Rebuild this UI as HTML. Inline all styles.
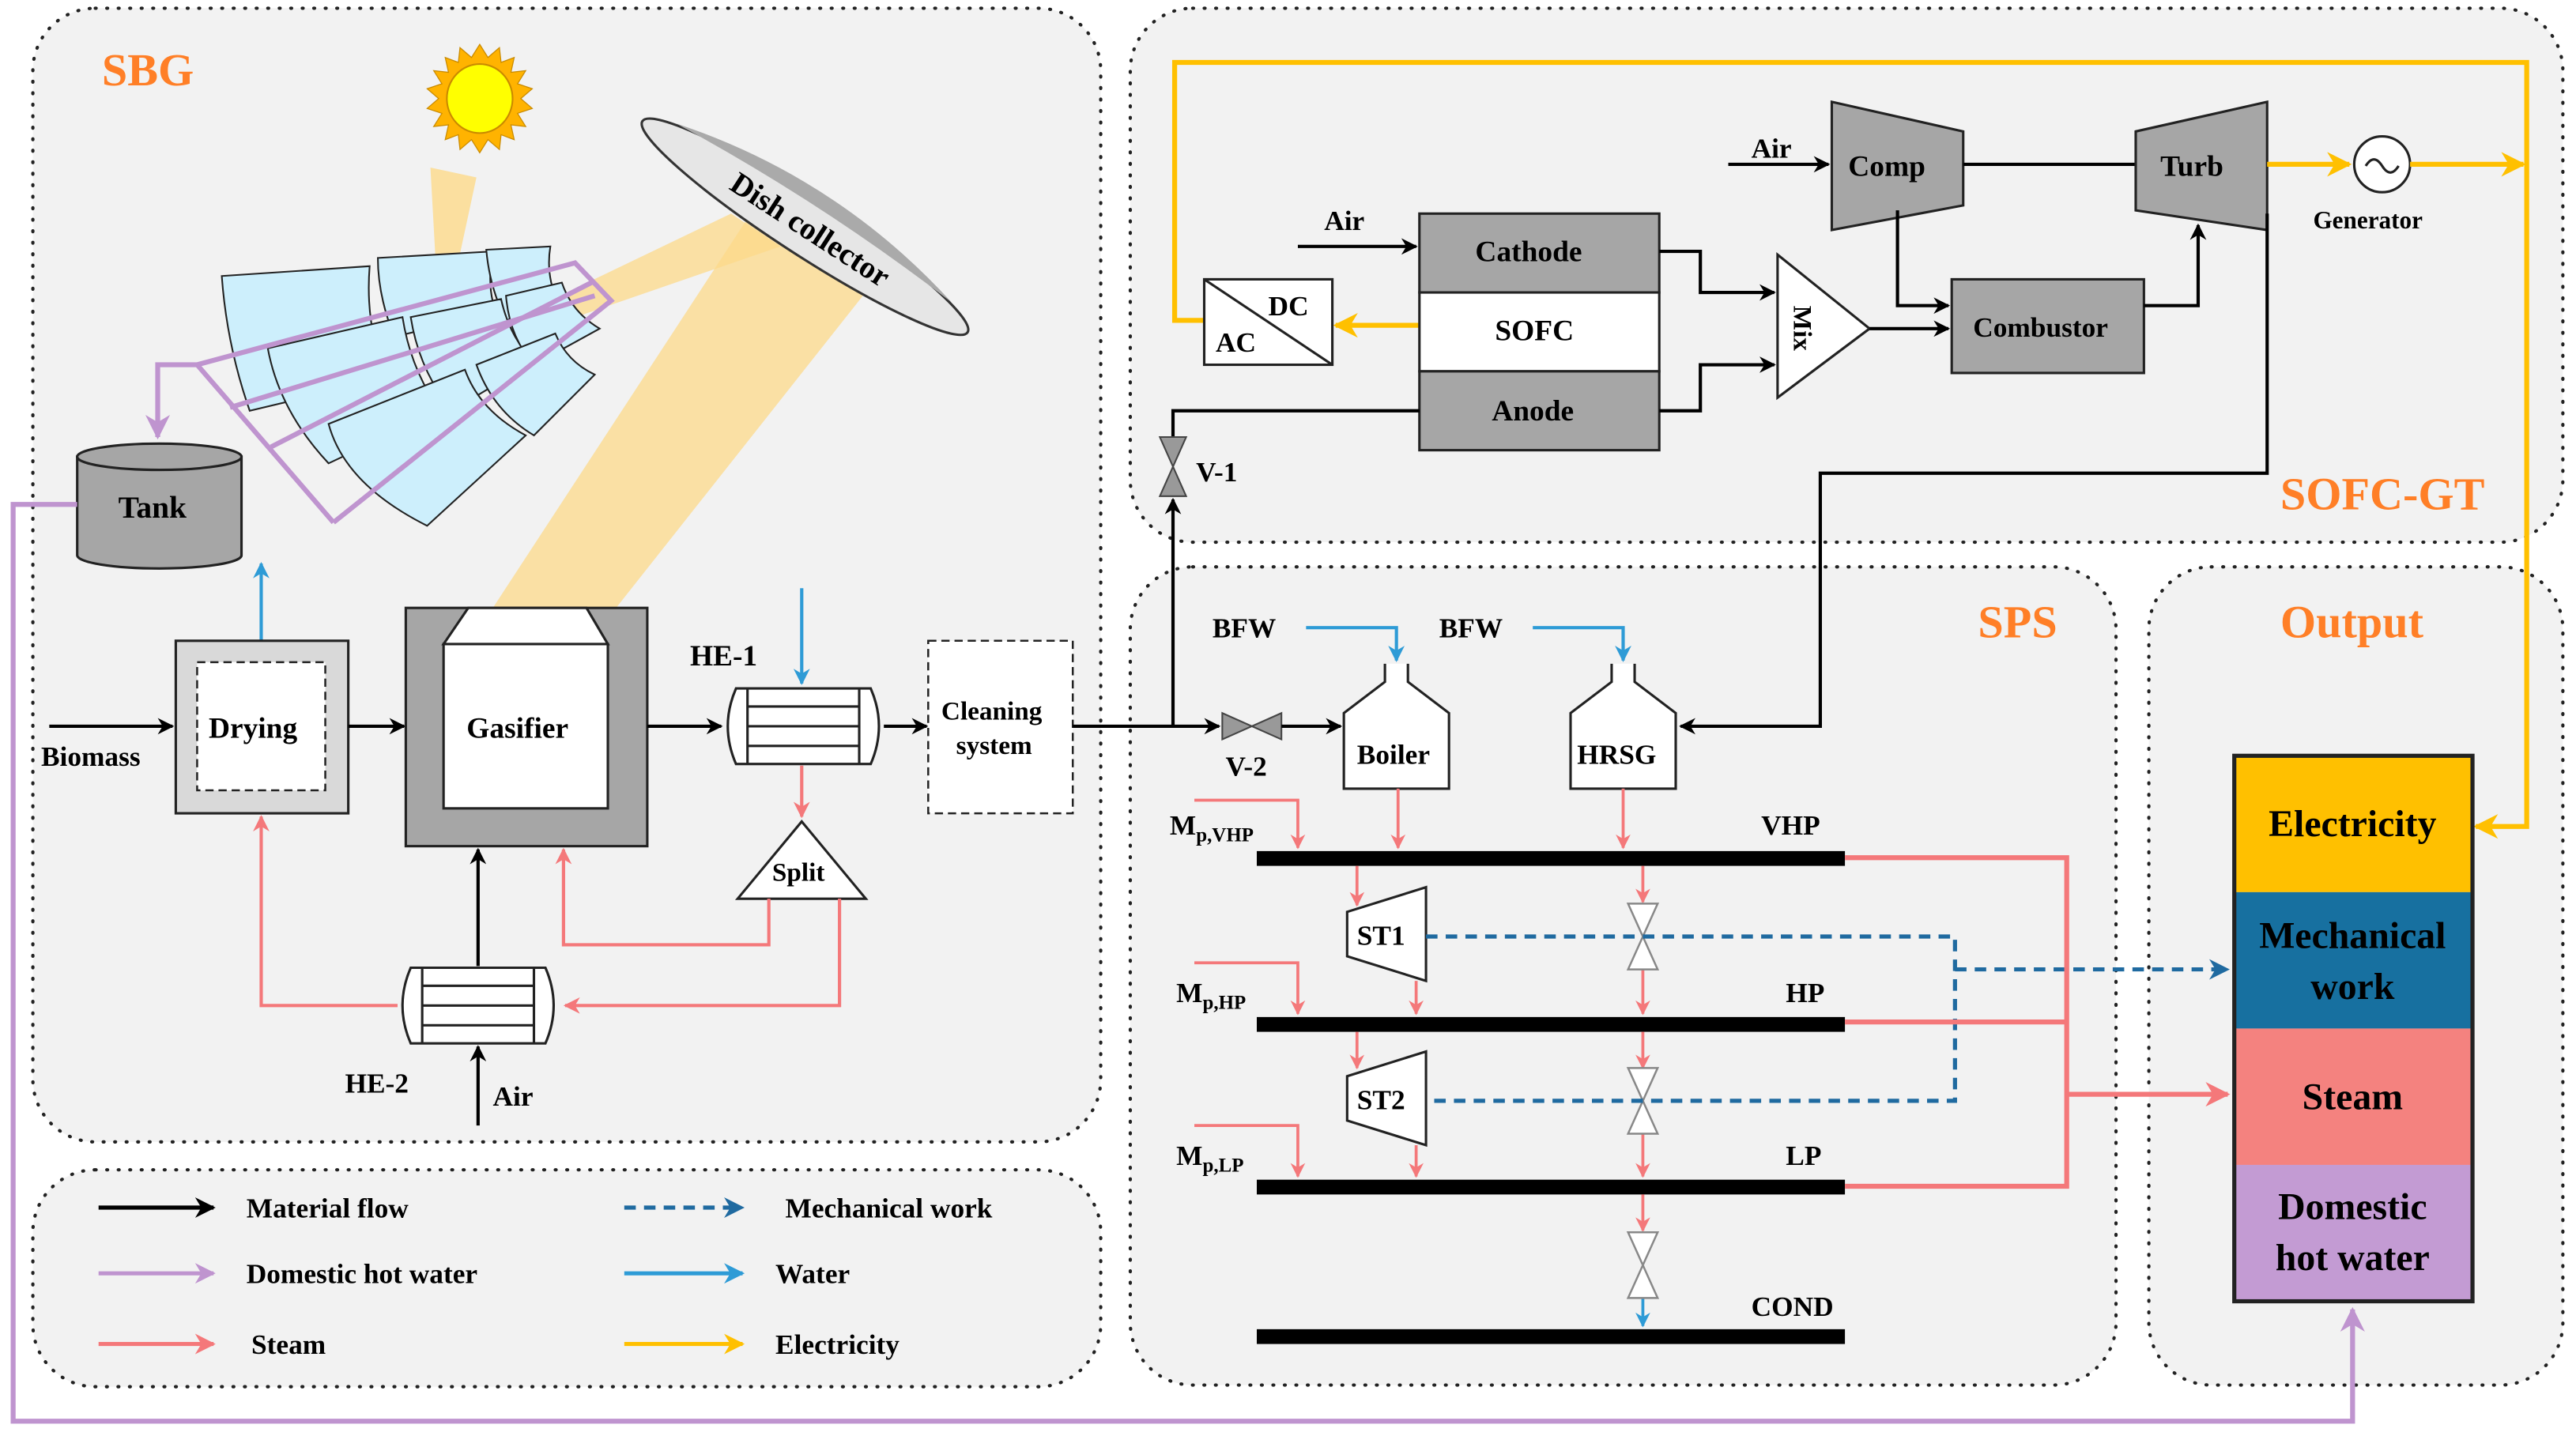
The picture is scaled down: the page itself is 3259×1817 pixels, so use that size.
<!DOCTYPE html>
<html><head><meta charset="utf-8"><style>html,body{margin:0;padding:0;background:#fff}svg{display:block}text{font-family:"Liberation Serif","Times New Roman",serif;font-weight:bold;fill:#000}</style></head><body>
<svg width="3259" height="1817" viewBox="0 0 1568 874" preserveAspectRatio="none" xmlns="http://www.w3.org/2000/svg" font-family="Liberation Serif, serif" font-weight="bold">
<defs>
<marker id="k" viewBox="0 0 10 10" refX="9" refY="5" markerWidth="5" markerHeight="5" orient="auto-start-reverse"><path d="M0,0L10,5L0,10L3,5z" fill="#000"/></marker>
<marker id="s" viewBox="0 0 10 10" refX="9" refY="5" markerWidth="5" markerHeight="5" orient="auto"><path d="M0,0L10,5L0,10L3,5z" fill="#f4787a"/></marker>
<marker id="b" viewBox="0 0 10 10" refX="9" refY="5" markerWidth="5" markerHeight="5" orient="auto"><path d="M0,0L10,5L0,10L3,5z" fill="#2e9bd6"/></marker>
<marker id="p" viewBox="0 0 10 10" refX="9" refY="5" markerWidth="5" markerHeight="5" orient="auto"><path d="M0,0L10,5L0,10L3,5z" fill="#bf94cf"/></marker>
<marker id="y" viewBox="0 0 10 10" refX="9" refY="5" markerWidth="5" markerHeight="5" orient="auto"><path d="M0,0L10,5L0,10L3,5z" fill="#ffc000"/></marker>
<marker id="d" viewBox="0 0 10 10" refX="9" refY="5" markerWidth="5" markerHeight="5" orient="auto"><path d="M0,0L10,5L0,10L3,5z" fill="#1f6aa0"/></marker>
</defs>
<g fill="#f2f2f2" stroke="#222" stroke-width="2" stroke-dasharray="0.5 6.5" stroke-linecap="round">
<rect x="20" y="5" width="650" height="690" rx="38"/>
<rect x="688" y="5" width="872" height="325" rx="38"/>
<rect x="688" y="345" width="600" height="498" rx="38"/>
<rect x="1308" y="345" width="252" height="498" rx="38"/>
<rect x="20" y="712" width="650" height="132" rx="38"/>
</g>
<g font-size="28">
<text x="62" y="52" style="fill:#ff7f27">SBG</text>
<text x="1388" y="310" style="fill:#ff7f27">SOFC-GT</text>
<text x="1204" y="388" style="fill:#ff7f27">SPS</text>
<text x="1388" y="388" style="fill:#ff7f27">Output</text>
</g>
<polygon points="262,102 290,108 268,210" fill="#fcd98a" opacity="0.8"/>
<polygon points="470,110 545,155 375,370 300,370" fill="#fcd98a" opacity="0.75"/>
<polygon points="445,130 475,150 330,200 320,190" fill="#fcd98a" opacity="0.75"/>
<g transform="translate(292,60)">
<polygon fill="#ffb300" stroke="#c98a00" stroke-width="0.6" points="0,-33 5,-25 12,-31 13,-22 21,-25 19,-16 28,-17 23,-9 32,-6 25,0 32,6 23,9 28,17 19,16 21,25 13,22 12,31 5,25 0,33 -5,25 -12,31 -13,22 -21,25 -19,16 -28,17 -23,9 -32,6 -25,0 -32,-6 -23,-9 -28,-17 -19,-16 -21,-25 -13,-22 -12,-31 -5,-25"/>
<ellipse rx="20" ry="21" fill="#ffff00" stroke="#c98a00"/>
</g>
<g transform="translate(490,138) rotate(33)">
<ellipse rx="118" ry="17" fill="#e6e6e6" stroke="#333" stroke-width="1.5"/>
<path d="M-100,-10 Q0,-36 100,-10 Q0,-18 -100,-10z" fill="#aaa"/>
<text x="-52" y="6" font-size="19">Dish collector</text>
</g>
<g fill="#cdeffc" stroke="#222" stroke-width="1">
<path d="M135,168 L225,162 Q222,200 236,230 L152,250 Q138,210 135,168z"/>
<path d="M230,157 L300,153 Q296,175 302,190 L240,205 Q230,180 230,157z"/>
<path d="M296,152 L335,150 Q332,168 340,185 L308,195 Q298,175 296,152z"/>
<path d="M163,212 L245,193 Q250,225 268,250 L200,282 Q170,250 163,212z"/>
<path d="M250,193 L305,182 Q310,205 325,220 L275,250 Q255,225 250,193z"/>
<path d="M308,180 L342,172 Q348,190 365,200 L325,222 Q310,205 308,180z"/>
<path d="M200,258 L283,225 Q292,250 320,265 L260,320 Q210,295 200,258z"/>
<path d="M290,222 L338,203 Q345,220 362,228 L325,265 Q300,250 290,222z"/>
</g>
<g fill="none" stroke="#bf94cf" stroke-width="3">
<polyline points="203,318 120,222 350,160 372,183 203,318"/>
<polyline points="165,272 360,172"/>
<polyline points="140,248 362,180"/>
</g>
<polyline points="120,222 96,222 96,266" fill="none" stroke="#bf94cf" stroke-width="3" marker-end="url(#p)"/>
<path d="M47,278 V338 A50,8 0 0 0 147,338 V278z" fill="#a6a6a6" stroke="#222" stroke-width="1.5"/>
<ellipse cx="97" cy="278" rx="50" ry="8" fill="#a6a6a6" stroke="#222" stroke-width="1.5"/>
<text x="72" y="315" font-size="19">Tank</text>
<polyline points="47,307 8,307 8,865 1432,865 1432,797" fill="none" stroke="#bf94cf" stroke-width="3" marker-end="url(#p)"/>
<line x1="159" y1="390" x2="159" y2="343" stroke="#2e9bd6" stroke-width="2" marker-end="url(#b)"/>
<rect x="107" y="390" width="105" height="105" fill="#d9d9d9" stroke="#222" stroke-width="1.5"/>
<rect x="120" y="403" width="78" height="78" fill="#fff" stroke="#222" stroke-width="1.2" stroke-dasharray="5 3"/>
<text x="127" y="449" font-size="18">Drying</text>
<line x1="30" y1="442" x2="105" y2="442" stroke="#000" stroke-width="2" marker-end="url(#k)"/>
<text x="25" y="466" font-size="17">Biomass</text>
<line x1="212" y1="442" x2="246" y2="442" stroke="#000" stroke-width="2" marker-end="url(#k)"/>
<rect x="247" y="370" width="147" height="145" fill="#a6a6a6" stroke="#222" stroke-width="1.5"/>
<rect x="270" y="392" width="100" height="100" fill="#fff" stroke="#222" stroke-width="1.5"/>
<polygon points="270,392 285,370 357,370 370,392" fill="#fff" stroke="#222" stroke-width="1.5"/>
<text x="284" y="449" font-size="18">Gasifier</text>
<line x1="394" y1="442" x2="439" y2="442" stroke="#000" stroke-width="2" marker-end="url(#k)"/>
<text x="420" y="405" font-size="18">HE-1</text>
<line x1="488" y1="358" x2="488" y2="416" stroke="#2e9bd6" stroke-width="2" marker-end="url(#b)"/>
<g fill="#fff" stroke="#222" stroke-width="1.5">
<path d="M448,419 H530 Q540,442 530,465 H448 Q438,442 448,419z"/>
<path d="M455,419 V465 M523,419 V465 M455,430 H523 M455,442 H523 M455,454 H523"/>
<path d="M250,589 H332 Q342,612 332,635 H250 Q240,612 250,589z"/>
<path d="M257,589 V635 M325,589 V635 M257,600 H325 M257,612 H325 M257,624 H325"/>
</g>
<line x1="538" y1="442" x2="564" y2="442" stroke="#000" stroke-width="2" marker-end="url(#k)"/>
<rect x="565" y="390" width="88" height="105" fill="#fff" stroke="#222" stroke-width="1.2" stroke-dasharray="5 3"/>
<text x="573" y="438" font-size="16">Cleaning</text>
<text x="582" y="459" font-size="16">system</text>
<line x1="488" y1="466" x2="488" y2="497" stroke="#f4787a" stroke-width="2" marker-end="url(#s)"/>
<polygon points="449,547 488,500 527,547" fill="#fff" stroke="#222" stroke-width="1.5"/>
<text x="470" y="536" font-size="16">Split</text>
<polyline points="468,547 468,575 343,575 343,517" fill="none" stroke="#f4787a" stroke-width="2" marker-end="url(#s)"/>
<polyline points="511,547 511,612 344,612" fill="none" stroke="#f4787a" stroke-width="2" marker-end="url(#s)"/>
<polyline points="242,612 159,612 159,497" fill="none" stroke="#f4787a" stroke-width="2" marker-end="url(#s)"/>
<line x1="291" y1="588" x2="291" y2="517" stroke="#000" stroke-width="2" marker-end="url(#k)"/>
<line x1="291" y1="685" x2="291" y2="637" stroke="#000" stroke-width="2" marker-end="url(#k)"/>
<text x="210" y="665" font-size="17">HE-2</text>
<text x="300" y="673" font-size="17">Air</text>
<g stroke-width="2.5" fill="none">
<line x1="60" y1="735" x2="130" y2="735" stroke="#000" marker-end="url(#k)"/>
<line x1="60" y1="775" x2="130" y2="775" stroke="#bf94cf" marker-end="url(#p)"/>
<line x1="60" y1="818" x2="130" y2="818" stroke="#f4787a" marker-end="url(#s)"/>
<line x1="380" y1="735" x2="452" y2="735" stroke="#1f6aa0" stroke-dasharray="7 5" marker-end="url(#d)"/>
<line x1="380" y1="775" x2="452" y2="775" stroke="#2e9bd6" marker-end="url(#b)"/>
<line x1="380" y1="818" x2="452" y2="818" stroke="#ffc000" marker-end="url(#y)"/>
</g>
<g font-size="17">
<text x="150" y="741">Material flow</text>
<text x="150" y="781">Domestic hot water</text>
<text x="153" y="824">Steam</text>
<text x="478" y="741">Mechanical work</text>
<text x="472" y="781">Water</text>
<text x="472" y="824">Electricity</text>
</g>
<polyline points="733,195 715,195 715,38 1538,38 1538,503 1507,503" fill="none" stroke="#ffc000" stroke-width="3" marker-end="url(#y)"/>
<line x1="864" y1="198" x2="813" y2="198" stroke="#ffc000" stroke-width="3" marker-end="url(#y)"/>
<rect x="733" y="170" width="78" height="52" fill="#fff" stroke="#222" stroke-width="1.5"/>
<line x1="733" y1="170" x2="811" y2="222" stroke="#222" stroke-width="1.5"/>
<text x="772" y="192" font-size="17">DC</text>
<text x="740" y="214" font-size="17">AC</text>
<rect x="864" y="130" width="146" height="48" fill="#a6a6a6" stroke="#222" stroke-width="1.5"/>
<rect x="864" y="178" width="146" height="48" fill="#fff" stroke="#222" stroke-width="1.5"/>
<rect x="864" y="226" width="146" height="48" fill="#a6a6a6" stroke="#222" stroke-width="1.5"/>
<text x="898" y="159" font-size="18">Cathode</text>
<text x="910" y="207" font-size="18">SOFC</text>
<text x="908" y="256" font-size="18">Anode</text>
<line x1="790" y1="150" x2="862" y2="150" stroke="#000" stroke-width="2" marker-end="url(#k)"/>
<text x="806" y="140" font-size="17">Air</text>
<polyline points="1010,153 1035,153 1035,178 1080,178" fill="none" stroke="#000" stroke-width="2" marker-end="url(#k)"/>
<polyline points="1010,250 1035,250 1035,222 1080,222" fill="none" stroke="#000" stroke-width="2" marker-end="url(#k)"/>
<polygon points="1082,155 1138,200 1082,242" fill="#fff" stroke="#222" stroke-width="1.5"/>
<text transform="translate(1092,186) rotate(90)" font-size="16">Mix</text>
<line x1="1138" y1="200" x2="1186" y2="200" stroke="#000" stroke-width="2" marker-end="url(#k)"/>
<line x1="1052" y1="100" x2="1113" y2="100" stroke="#000" stroke-width="2" marker-end="url(#k)"/>
<text x="1066" y="96" font-size="17">Air</text>
<polygon points="1115,62 1195,80 1195,125 1115,140" fill="#a6a6a6" stroke="#222" stroke-width="1.5"/>
<text x="1125" y="107" font-size="18">Comp</text>
<line x1="1195" y1="100" x2="1300" y2="100" stroke="#000" stroke-width="2"/>
<polygon points="1300,80 1380,62 1380,140 1300,128" fill="#a6a6a6" stroke="#222" stroke-width="1.5"/>
<text x="1315" y="107" font-size="18">Turb</text>
<polyline points="1155,128 1155,186 1186,186" fill="none" stroke="#000" stroke-width="2" marker-end="url(#k)"/>
<rect x="1188" y="170" width="117" height="57" fill="#a6a6a6" stroke="#222" stroke-width="1.5"/>
<text x="1201" y="205" font-size="17">Combustor</text>
<polyline points="1305,186 1338,186 1338,137" fill="none" stroke="#000" stroke-width="2" marker-end="url(#k)"/>
<line x1="1380" y1="100" x2="1430" y2="100" stroke="#ffc000" stroke-width="3" marker-end="url(#y)"/>
<circle cx="1450" cy="100" r="17" fill="#fff" stroke="#222" stroke-width="1.5"/>
<path d="M1440,101 q5,-8 10,0 t10,0" fill="none" stroke="#222" stroke-width="1.5"/>
<line x1="1467" y1="100" x2="1536" y2="100" stroke="#ffc000" stroke-width="3" marker-end="url(#y)"/>
<text x="1408" y="139" font-size="15">Generator</text>
<polyline points="1380,130 1380,288 1108,288 1108,442 1023,442" fill="none" stroke="#000" stroke-width="2" marker-end="url(#k)"/>
<polyline points="864,250 714,250 714,268" fill="none" stroke="#000" stroke-width="2"/>
<line x1="714" y1="442" x2="714" y2="304" stroke="#000" stroke-width="2" marker-end="url(#k)"/>
<polygon points="706,266 722,266 706,302 722,302" fill="#999" stroke="#444"/>
<text x="728" y="293" font-size="17">V-1</text>
<line x1="653" y1="442" x2="742" y2="442" stroke="#000" stroke-width="2" marker-end="url(#k)"/>
<polygon points="744,434 744,450 780,434 780,450" fill="#999" stroke="#444"/>
<line x1="780" y1="442" x2="816" y2="442" stroke="#000" stroke-width="2" marker-end="url(#k)"/>
<text x="746" y="472" font-size="17">V-2</text>
<text x="738" y="388" font-size="17">BFW</text>
<text x="876" y="388" font-size="17">BFW</text>
<polyline points="795,382 850,382 850,402" fill="none" stroke="#2e9bd6" stroke-width="2" marker-end="url(#b)"/>
<polyline points="933,382 988,382 988,402" fill="none" stroke="#2e9bd6" stroke-width="2" marker-end="url(#b)"/>
<path d="M843,404 V415 L818,434 V480 H882 V434 L857,415 V404" fill="#fff" stroke="#222" stroke-width="1.5"/>
<path d="M981,404 V415 L956,434 V480 H1020 V434 L995,415 V404" fill="#fff" stroke="#222" stroke-width="1.5"/>
<text x="826" y="465" font-size="17">Boiler</text>
<text x="960" y="465" font-size="17">HRSG</text>
<g fill="#000">
<rect x="765" y="518" width="358" height="9"/>
<rect x="765" y="619" width="358" height="9"/>
<rect x="765" y="718" width="358" height="9"/>
<rect x="765" y="809" width="358" height="9"/>
</g>
<g font-size="17">
<text x="1072" y="508">VHP</text>
<text x="1087" y="610">HP</text>
<text x="1087" y="709">LP</text>
<text x="1066" y="801">COND</text>
<text x="712" y="508">M<tspan font-size="12" dy="4">p,VHP</tspan></text>
<text x="716" y="610">M<tspan font-size="12" dy="4">p,HP</tspan></text>
<text x="716" y="709">M<tspan font-size="12" dy="4">p,LP</tspan></text>
</g>
<g fill="none" stroke="#f4787a" stroke-width="1.8">
<polyline points="727,487 790,487 790,516" marker-end="url(#s)"/>
<polyline points="727,586 790,586 790,617" marker-end="url(#s)"/>
<polyline points="727,685 790,685 790,716" marker-end="url(#s)"/>
<line x1="851" y1="480" x2="851" y2="516" marker-end="url(#s)"/>
<line x1="988" y1="480" x2="988" y2="516" marker-end="url(#s)"/>
<line x1="826" y1="527" x2="826" y2="551" marker-end="url(#s)"/>
<line x1="862" y1="597" x2="862" y2="617" marker-end="url(#s)"/>
<line x1="826" y1="628" x2="826" y2="650" marker-end="url(#s)"/>
<line x1="862" y1="697" x2="862" y2="716" marker-end="url(#s)"/>
<line x1="1000" y1="527" x2="1000" y2="549" marker-end="url(#s)"/>
<line x1="1000" y1="590" x2="1000" y2="617" marker-end="url(#s)"/>
<line x1="1000" y1="628" x2="1000" y2="650" marker-end="url(#s)"/>
<line x1="1000" y1="690" x2="1000" y2="716" marker-end="url(#s)"/>
<line x1="1000" y1="727" x2="1000" y2="749" marker-end="url(#s)"/>
</g>
<line x1="1000" y1="790" x2="1000" y2="807" stroke="#2e9bd6" stroke-width="1.8" marker-end="url(#b)"/>
<g fill="#fff" stroke="#888" stroke-width="1.2">
<polygon points="991,550 1009,550 991,590 1009,590"/>
<polygon points="991,650 1009,650 991,690 1009,690"/>
<polygon points="991,750 1009,750 991,790 1009,790"/>
</g>
<polygon points="820,555 868,540 868,597 820,582" fill="#fff" stroke="#222" stroke-width="1.5"/>
<polygon points="820,655 868,640 868,697 820,682" fill="#fff" stroke="#222" stroke-width="1.5"/>
<text x="826" y="575" font-size="17">ST1</text>
<text x="826" y="675" font-size="17">ST2</text>
<g fill="none" stroke="#1f6aa0" stroke-width="2.5" stroke-dasharray="7 5">
<polyline points="868,570 1190,570 1190,670 868,670"/>
<line x1="1190" y1="590" x2="1356" y2="590" marker-end="url(#d)"/>
</g>
<g fill="none" stroke="#f4787a" stroke-width="3">
<polyline points="1123,522 1258,522 1258,722 1123,722"/>
<line x1="1123" y1="622" x2="1258" y2="622"/>
<line x1="1258" y1="666" x2="1356" y2="666" marker-end="url(#s)"/>
</g>
<rect x="1360" y="460" width="145" height="83" fill="#ffc000"/>
<rect x="1360" y="543" width="145" height="83" fill="#1770a0"/>
<rect x="1360" y="626" width="145" height="83" fill="#f4827f"/>
<rect x="1360" y="709" width="145" height="83" fill="#c39bd3"/>
<rect x="1360" y="460" width="145" height="332" fill="none" stroke="#222" stroke-width="2.5"/>
<g font-size="23" text-anchor="middle">
<text x="1432" y="509">Electricity</text>
<text x="1432" y="577">Mechanical</text>
<text x="1432" y="608">work</text>
<text x="1432" y="675">Steam</text>
<text x="1432" y="742">Domestic</text>
<text x="1432" y="773">hot water</text>
</g>
</svg>
</body></html>
